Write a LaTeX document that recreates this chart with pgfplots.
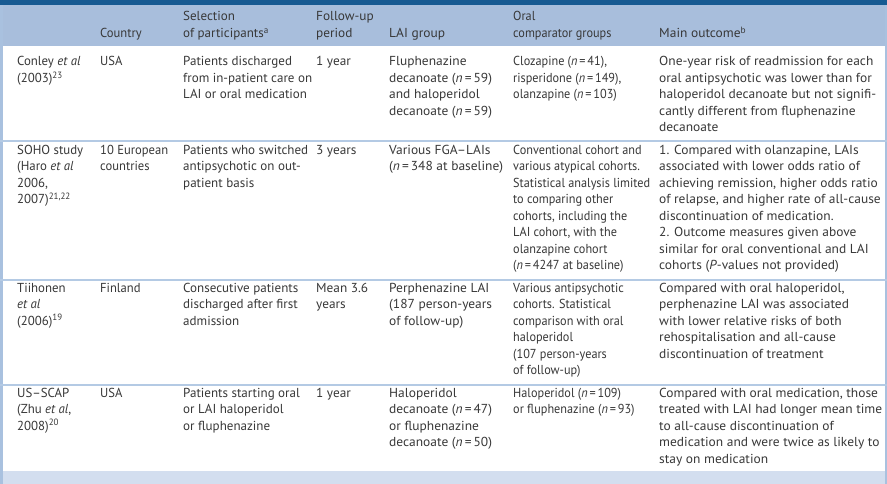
\documentclass[border=0pt]{standalone}
\usepackage{pgfplots}
\pgfplotsset{compat=1.18}
\usepackage{graphicx}
\usepackage{fontspec}
\setmainfont{PT Sans}
\definecolor{txt}{HTML}{383838}
\definecolor{dark}{HTML}{175A92}
\definecolor{head}{HTML}{A8BEDC}
\definecolor{sep}{HTML}{B4CAE4}
\definecolor{bord}{HTML}{A9C1DF}
\definecolor{foot}{HTML}{D3DEEF}
\newcommand{\n}{\textit{n}\kern2pt=\kern2pt}
% base font size: "from in-patient care on" = 129pt wide
\newlength\tmpw
\settowidth\tmpw{\fontsize{10}{12}\selectfont from in-patient care on}
\pgfmathsetmacro\fsz{10*129/\tmpw}
\newcommand{\fs}{\fontsize{\fsz}{16}\selectfont}
\newcommand{\fit}[3]{\settowidth\tmpw{\fs #1}\pgfmathsetmacro#3{#2/\tmpw}}
\fit{SOHO study}{66}{\fA}
\fit{10 European}{68}{\fB}
\def\fC{1}
\fit{Mean 3.6}{52}{\fD}
\fit{(\n348 at baseline)}{114}{\fE}
\fit{Statistical analysis limited}{137}{\fF}
\fit{of relapse, and higher rate of all-cause}{223}{\fGa}
\fit{One-year risk of readmission for each}{223}{\fGb}
\fit{medication and were twice as likely to}{223}{\fGc}
\fit{treated with LAI had longer mean time}{223}{\fGd}
\pgfmathsetmacro\fG{min(\fGa,\fGb,\fGc,\fGd)}
\def\xA{17}\def\xB{100}\def\xC{183}\def\xD{316}\def\xE{389}\def\xF{513}\def\xG{659}
\def\ls{16.5}
\def\rh{21}
\def\ra{66}
\def\rb{154.4}
\def\rc{292.3}
\def\rd{397.2}
\newcommand{\tx}[4]{\node[anchor=base west,inner sep=0pt,text=txt,font=\fs] at (axis cs:\csname x#1\endcsname,{#2+#3*\ls}) {\scalebox{\csname f#1\endcsname}[1]{#4}};}
\begin{document}
\begin{tikzpicture}
\begin{axis}[scale only axis, width=887pt, height=484pt,
  xmin=0, xmax=887, ymin=0, ymax=484, y dir=reverse,
  hide axis, clip=false]
\addplot[draw=none] coordinates {(0,0) (887,484)};
% backgrounds
\fill[white] (axis cs:0,0) rectangle (axis cs:887,484);
\fill[dark] (axis cs:0,0) rectangle (axis cs:887,5);
\fill[head] (axis cs:0,5) rectangle (axis cs:887,46);
\fill[foot] (axis cs:0,471) rectangle (axis cs:887,484);
\fill[bord] (axis cs:0,5) rectangle (axis cs:2.5,484);
\fill[bord] (axis cs:884.5,5) rectangle (axis cs:887,484);
\fill[sep] (axis cs:0,140.5) rectangle (axis cs:887,142.5);
\fill[sep] (axis cs:0,278.5) rectangle (axis cs:887,280.5);
\fill[sep] (axis cs:0,383.5) rectangle (axis cs:887,385.5);
% header
\tx{B}{\rh}{1}{Country}
\tx{C}{\rh}{0}{Selection}
\tx{C}{\rh}{1}{of participants\textsuperscript{a}}
\tx{D}{\rh}{0}{Follow-up}
\tx{D}{\rh}{1}{period}
\tx{E}{\rh}{1}{LAI group}
\tx{F}{\rh}{0}{Oral}
\tx{F}{\rh}{1}{comparator groups}
\tx{G}{\rh}{1}{Main outcome\textsuperscript{b}}
% row 1
\tx{A}{\ra}{0}{Conley \textit{et al}}
\tx{A}{\ra}{1}{(2003)\textsuperscript{23}}
\tx{B}{\ra}{0}{USA}
\tx{C}{\ra}{0}{Patients discharged}
\tx{C}{\ra}{1}{from in-patient care on}
\tx{C}{\ra}{2}{LAI or oral medication}
\tx{D}{\ra}{0}{1 year}
\tx{E}{\ra}{0}{Fluphenazine}
\tx{E}{\ra}{1}{decanoate (\n59)}
\tx{E}{\ra}{2}{and haloperidol}
\tx{E}{\ra}{3}{decanoate (\n59)}
\tx{F}{\ra}{0}{Clozapine (\n41),}
\tx{F}{\ra}{1}{risperidone (\n149),}
\tx{F}{\ra}{2}{olanzapine (\n103)}
\tx{G}{\ra}{0}{One-year risk of readmission for each}
\tx{G}{\ra}{1}{oral antipsychotic was lower than for}
\tx{G}{\ra}{2}{haloperidol decanoate but not signifi-}
\tx{G}{\ra}{3}{cantly different from fluphenazine}
\tx{G}{\ra}{4}{decanoate}
% row 2
\tx{A}{\rb}{0}{SOHO study}
\tx{A}{\rb}{1}{(Haro \textit{et al}}
\tx{A}{\rb}{2}{2006,}
\tx{A}{\rb}{3}{2007)\textsuperscript{21,22}}
\tx{B}{\rb}{0}{10 European}
\tx{B}{\rb}{1}{countries}
\tx{C}{\rb}{0}{Patients who switched}
\tx{C}{\rb}{1}{antipsychotic on out-}
\tx{C}{\rb}{2}{patient basis}
\tx{D}{\rb}{0}{3 years}
\tx{E}{\rb}{0}{Various FGA--LAIs}
\tx{E}{\rb}{1}{(\n348 at baseline)}
\tx{F}{\rb}{0}{Conventional cohort and}
\tx{F}{\rb}{1}{various atypical cohorts.}
\tx{F}{\rb}{2}{Statistical analysis limited}
\tx{F}{\rb}{3}{to comparing other}
\tx{F}{\rb}{4}{cohorts, including the}
\tx{F}{\rb}{5}{LAI cohort, with the}
\tx{F}{\rb}{6}{olanzapine cohort}
\tx{F}{\rb}{7}{(\n4247 at baseline)}
\tx{G}{\rb}{0}{1. Compared with olanzapine, LAIs}
\tx{G}{\rb}{1}{associated with lower odds ratio of}
\tx{G}{\rb}{2}{achieving remission, higher odds ratio}
\tx{G}{\rb}{3}{of relapse, and higher rate of all-cause}
\tx{G}{\rb}{4}{discontinuation of medication.}
\tx{G}{\rb}{5}{2. Outcome measures given above}
\tx{G}{\rb}{6}{similar for oral conventional and LAI}
\tx{G}{\rb}{7}{cohorts (\textit{P}-values not provided)}
% row 3
\tx{A}{\rc}{0}{Tiihonen}
\tx{A}{\rc}{1}{\textit{et al}}
\tx{A}{\rc}{2}{(2006)\textsuperscript{19}}
\tx{B}{\rc}{0}{Finland}
\tx{C}{\rc}{0}{Consecutive patients}
\tx{C}{\rc}{1}{discharged after first}
\tx{C}{\rc}{2}{admission}
\tx{D}{\rc}{0}{Mean 3.6}
\tx{D}{\rc}{1}{years}
\tx{E}{\rc}{0}{Perphenazine LAI}
\tx{E}{\rc}{1}{(187 person-years}
\tx{E}{\rc}{2}{of follow-up)}
\tx{F}{\rc}{0}{Various antipsychotic}
\tx{F}{\rc}{1}{cohorts. Statistical}
\tx{F}{\rc}{2}{comparison with oral}
\tx{F}{\rc}{3}{haloperidol}
\tx{F}{\rc}{4}{(107 person-years}
\tx{F}{\rc}{5}{of follow-up)}
\tx{G}{\rc}{0}{Compared with oral haloperidol,}
\tx{G}{\rc}{1}{perphenazine LAI was associated}
\tx{G}{\rc}{2}{with lower relative risks of both}
\tx{G}{\rc}{3}{rehospitalisation and all-cause}
\tx{G}{\rc}{4}{discontinuation of treatment}
% row 4
\tx{A}{\rd}{0}{US--SCAP}
\tx{A}{\rd}{1}{(Zhu \textit{et al},}
\tx{A}{\rd}{2}{2008)\textsuperscript{20}}
\tx{B}{\rd}{0}{USA}
\tx{C}{\rd}{0}{Patients starting oral}
\tx{C}{\rd}{1}{or LAI haloperidol}
\tx{C}{\rd}{2}{or fluphenazine}
\tx{D}{\rd}{0}{1 year}
\tx{E}{\rd}{0}{Haloperidol}
\tx{E}{\rd}{1}{decanoate (\n47)}
\tx{E}{\rd}{2}{or fluphenazine}
\tx{E}{\rd}{3}{decanoate (\n50)}
\tx{F}{\rd}{0}{Haloperidol (\n109)}
\tx{F}{\rd}{1}{or fluphenazine (\n93)}
\tx{G}{\rd}{0}{Compared with oral medication, those}
\tx{G}{\rd}{1}{treated with LAI had longer mean time}
\tx{G}{\rd}{2}{to all-cause discontinuation of}
\tx{G}{\rd}{3}{medication and were twice as likely to}
\tx{G}{\rd}{4}{stay on medication}
\end{axis}
\end{tikzpicture}
\end{document}
